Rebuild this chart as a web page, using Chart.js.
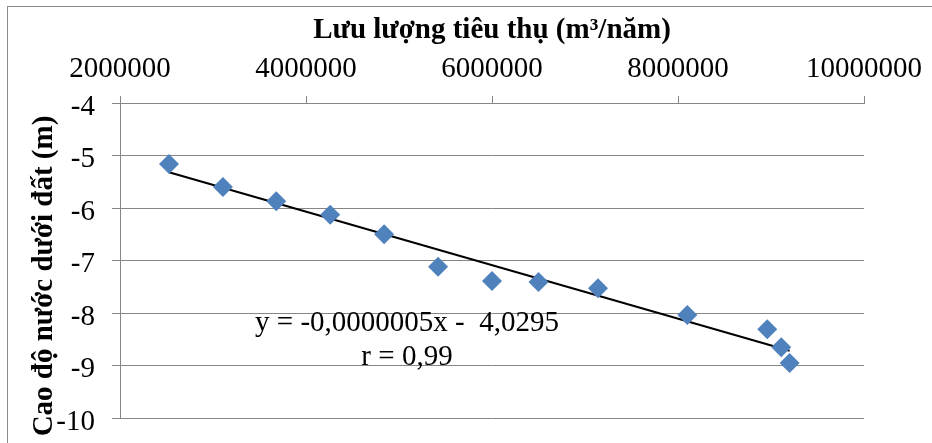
<!DOCTYPE html>
<html>
<head>
<meta charset="utf-8">
<script src="https://cdn.jsdelivr.net/npm/chart.js@4/dist/chart.umd.min.js"></script>
<style>
    body { margin: 0; background: #fff; }
    #wrap { position: relative; width: 932px; height: 443px; overflow: hidden; }
    #frame { position: absolute; left: 7px; top: 6px; width: 1000px; height: 1000px; border: 1px solid #8c8c8c; }
    #chart { position: absolute; left: 0; top: 0; }
</style>
</head>
<body>
<div id="wrap">
    <div id="frame"></div>
    <canvas id="chart" width="932" height="443"></canvas>
</div>
<script>
// Données
const consumption = [2527000, 3107000, 3680000, 4260000, 4840000, 5420000, 6000000, 6500000, 7140000, 8100000, 8960000, 9110000, 9200000];
const depth = [-5.16, -5.60, -5.87, -6.13, -6.50, -7.12, -7.39, -7.41, -7.53, -8.04, -8.31, -8.65, -8.95];
// Droite de tendance (extrémités)
const trendX = [2527000, 9200000];
const trendY = [-5.32, -8.72];
const equationLines = ['y = -0,0000005x -  4,0295', 'r = 0,99'];
const xTitle = 'Lưu lượng tiêu thụ (m³/năm)';
const yTitle = 'Cao độ nước dưới đất (m)';

const serif = "'Liberation Serif', 'Times New Roman', serif";

// Texte de l'équation et titre vertical
const textPlugin = {
    id: 'texts',
    afterDraw(chart) {
        const ctx = chart.ctx;
        ctx.save();
        ctx.fillStyle = '#000';
        ctx.textAlign = 'center';
        ctx.textBaseline = 'middle';
        ctx.font = '29px ' + serif;
        ctx.fillText(equationLines[0], 407, 323);
        ctx.fillText(equationLines[1], 407, 357);
        ctx.translate(45, 276);
        ctx.rotate(-Math.PI / 2);
        ctx.font = 'bold 29px ' + serif;
        ctx.fillText(yTitle, 0, 0);
        ctx.restore();
    }
};

new Chart(document.getElementById('chart'), {
    type: 'scatter',
    data: {
        datasets: [{
            data: consumption.map((x, i) => ({x: x, y: depth[i]})),
            pointStyle: 'rectRot',
            pointRadius: 10,
            pointHoverRadius: 10,
            backgroundColor: '#4F81BD',
            borderColor: '#4F81BD',
            borderWidth: 0
        }, {
            type: 'line',
            data: trendX.map((x, i) => ({x: x, y: trendY[i]})),
            borderColor: '#000',
            borderWidth: 2,
            pointRadius: 0,
            fill: false
        }]
    },
    options: {
        responsive: false,
        animation: false,
        layout: { padding: { left: 0, top: 13, right: 68, bottom: 25 } },
        plugins: {
            legend: { display: false },
            tooltip: { enabled: false }
        },
        scales: {
            x: {
                type: 'linear',
                position: 'top',
                min: 2000000,
                max: 10000000,
                ticks: {
                    stepSize: 2000000,
                    padding: 9,
                    color: '#000',
                    font: { family: serif, size: 29 },
                    callback: v => String(v)
                },
                grid: { drawOnChartArea: false, tickLength: 7, color: '#868686' },
                border: { color: '#868686', width: 1 },
                title: {
                    display: true,
                    text: xTitle,
                    color: '#000',
                    font: { family: serif, size: 29, weight: 'bold' },
                    padding: { top: 0, bottom: 0 }
                },
                afterFit: s => { s.height = 90; s.paddingLeft = 0; s.paddingRight = 0; }
            },
            y: {
                min: -10,
                max: -4,
                ticks: {
                    stepSize: 1,
                    padding: 17,
                    labelOffset: 4,
                    color: '#000',
                    font: { family: serif, size: 29 }
                },
                grid: { tickLength: 8, color: '#868686' },
                border: { color: '#868686', width: 1 },
                afterFit: s => { s.width = 120; s.paddingTop = 0; s.paddingBottom = 0; }
            }
        }
    },
    plugins: [textPlugin]
});
</script>
</body>
</html>
